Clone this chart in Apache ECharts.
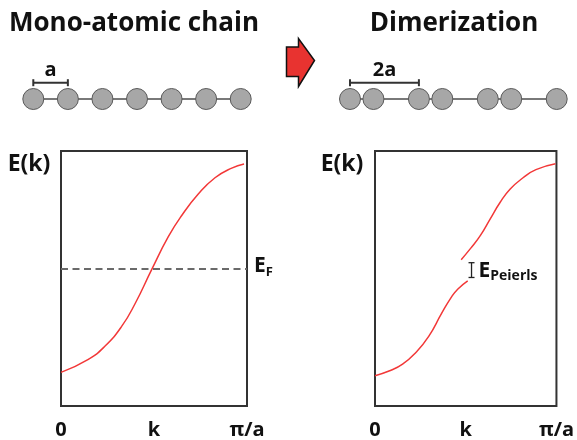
<!DOCTYPE html>
<html>
<head>
<meta charset="utf-8">
<script src="https://cdn.jsdelivr.net/npm/echarts@6/dist/echarts.min.js"></script>
<style>
  html, body { margin: 0; padding: 0; background: #fff; }
  #chart { width: 577px; height: 440px; }
</style>
</head>
<body>
<div id="chart"></div>
<script>
// Atom positions along each chain, in units of the lattice constant a
const atomsMono = [0, 1, 2, 3, 4, 5, 6];
const atomsDimer = [0, 0.68, 2, 2.68, 4, 4.68, 6];
// Unit-cell brackets: [start, end] and their labels
const cellMono = [0, 1];
const cellDimer = [0, 2];
const cellLabels = ['a', '2a'];

// Band E(k) of the mono-atomic chain (k in units of pi/a, E normalised)
const kMono = [0, 0.147, 0.237, 0.326, 0.398, 0.488, 0.577, 0.649, 0.738, 0.828, 0.918, 0.984];
const eMono = [0.132, 0.183, 0.235, 0.312, 0.401, 0.536, 0.664, 0.747, 0.831, 0.895, 0.933, 0.949];
const fermiLevel = 0.536;

// Dimerised chain: lower and upper bands separated by the Peierls gap
const kLower = [0, 0.081, 0.152, 0.224, 0.296, 0.367, 0.421, 0.457, 0.511];
const eLower = [0.119, 0.138, 0.164, 0.209, 0.273, 0.363, 0.427, 0.459, 0.491];
const kUpper = [0.475, 0.528, 0.582, 0.636, 0.690, 0.744, 0.816, 0.887, 0.995];
const eUpper = [0.574, 0.619, 0.670, 0.735, 0.799, 0.850, 0.895, 0.927, 0.950];
const peierlsGap = [0.532, 0.504, 0.562]; // k, E bottom, E top

// Tick labels on the k axis
const kTicks = ['0', 'k', 'π/a'];

const FONT = '"Open Sans", "Noto Sans", sans-serif';
const RED = '#f23838';
const DARK = '#333333';

const zip = (xs, ys) => xs.map((x, i) => [x, ys[i]]);

function chainSeries(atoms, grid) {
  const pts = atoms.map(x => [x, 0]);
  return [
    {
      type: 'line', xAxisIndex: grid, yAxisIndex: grid, data: pts,
      symbol: 'none', lineStyle: { color: '#4d4d4d', width: 1.5 }, silent: true, z: 2
    },
    {
      type: 'scatter', xAxisIndex: grid, yAxisIndex: grid, data: pts,
      symbol: 'circle', symbolSize: 21,
      itemStyle: { color: '#a7a7a7', borderColor: '#5a5a5a', borderWidth: 1, opacity: 1 },
      silent: true, z: 3
    }
  ];
}

function bracketSeries(cell, label, grid) {
  return {
    type: 'custom', xAxisIndex: grid, yAxisIndex: grid, silent: true, z: 4,
    data: [[cell[0], cell[1], 1.63]],
    renderItem: function (params, api) {
      const a = api.coord([api.value(0), api.value(2)]);
      const b = api.coord([api.value(1), api.value(2)]);
      const ls = { stroke: DARK, lineWidth: 2 };
      return {
        type: 'group',
        children: [
          { type: 'line', shape: { x1: a[0], y1: a[1], x2: b[0], y2: b[1] }, style: ls },
          { type: 'line', shape: { x1: a[0], y1: a[1] - 3.5, x2: a[0], y2: a[1] + 3.5 }, style: ls },
          { type: 'line', shape: { x1: b[0], y1: b[1] - 3.5, x2: b[0], y2: b[1] + 3.5 }, style: ls },
          {
            type: 'text',
            style: {
              x: (a[0] + b[0]) / 2, y: a[1] - 12,
              text: label, align: 'center', verticalAlign: 'middle',
              font: 'bold 20px ' + FONT, fill: '#111'
            }
          }
        ]
      };
    }
  };
}

function plotX(grid) {
  return {
    type: 'value', gridIndex: grid, min: 0, max: 1, interval: 0.5,
    axisLine: { show: false }, axisTick: { show: false }, splitLine: { show: false },
    axisLabel: {
      margin: 14, fontFamily: FONT, fontWeight: 'bold', fontSize: 20, color: '#111',
      formatter: v => kTicks[Math.round(v * 2)]
    }
  };
}
function plotY(grid) {
  return { type: 'value', gridIndex: grid, min: 0, max: 1, show: false };
}

function bandLine(ks, es, grid, extra) {
  return Object.assign({
    type: 'line', xAxisIndex: grid, yAxisIndex: grid, data: zip(ks, es),
    smooth: 0.5, symbol: 'none',
    lineStyle: { color: RED, width: 1.5 }, z: 3
  }, extra || {});
}

const option = {
  animation: false,
  backgroundColor: '#ffffff',
  grid: [
    { left: 33.3, top: 59, width: 207.4, height: 50 },
    { left: 350, top: 59, width: 206.7, height: 50 },
    { left: 61, top: 151, width: 186, height: 260, show: true, borderColor: DARK, borderWidth: 2, backgroundColor: 'transparent' },
    { left: 375, top: 151, width: 186, height: 260, show: true, borderColor: DARK, borderWidth: 2, backgroundColor: 'transparent' }
  ],
  xAxis: [
    { type: 'value', gridIndex: 0, min: 0, max: 6, show: false },
    { type: 'value', gridIndex: 1, min: 0, max: 6, show: false },
    plotX(2),
    plotX(3)
  ],
  yAxis: [
    { type: 'value', gridIndex: 0, min: -1, max: 4, show: false },
    { type: 'value', gridIndex: 1, min: -1, max: 4, show: false },
    plotY(2),
    plotY(3)
  ],
  graphic: [
    { type: 'text', x: 134, y: 24, style: { text: 'Mono-atomic chain', font: 'bold 26px ' + FONT, fill: '#111', align: 'center', verticalAlign: 'middle' } },
    { type: 'text', x: 454, y: 24, style: { text: 'Dimerization', font: 'bold 26px ' + FONT, fill: '#111', align: 'center', verticalAlign: 'middle' } },
    { type: 'text', x: 29, y: 164, style: { text: 'E(k)', font: 'bold 23px ' + FONT, fill: '#111', align: 'center', verticalAlign: 'middle' } },
    { type: 'text', x: 342, y: 164, style: { text: 'E(k)', font: 'bold 23px ' + FONT, fill: '#111', align: 'center', verticalAlign: 'middle' } },
    {
      type: 'polygon',
      shape: { points: [[286.5, 47], [298.5, 47], [298.5, 38.5], [314.5, 60.5], [298.5, 86.5], [298.5, 76.5], [286.5, 76.5]] },
      style: { fill: '#e83330', stroke: '#111', lineWidth: 1.5, lineJoin: 'miter' }
    }
  ],
  series: [
    ...chainSeries(atomsMono, 0),
    ...chainSeries(atomsDimer, 1),
    bracketSeries(cellMono, cellLabels[0], 0),
    bracketSeries(cellDimer, cellLabels[1], 1),
    bandLine(kMono, eMono, 2, {
      markLine: {
        silent: true, symbol: 'none',
        lineStyle: { color: '#6a6a6a', width: 2.2, type: [7, 4.5] },
        label: {
          show: true, position: 'end', distance: 7,
          formatter: '{e|E}{s|F}',
          rich: {
            e: { fontFamily: FONT, fontWeight: 'bold', fontSize: 21, color: '#111', padding: [0, 0, 5, 0] },
            s: { fontFamily: FONT, fontWeight: 'bold', fontSize: 13, color: '#111', padding: [8, 0, 0, 0] }
          }
        },
        data: [{ yAxis: fermiLevel }]
      }
    }),
    bandLine(kLower, eLower, 3),
    bandLine(kUpper, eUpper, 3),
    {
      type: 'custom', xAxisIndex: 3, yAxisIndex: 3, silent: true, z: 4,
      data: [peierlsGap],
      renderItem: function (params, api) {
        const lo = api.coord([api.value(0), api.value(1)]);
        const hi = api.coord([api.value(0), api.value(2)]);
        const ls = { stroke: '#222', lineWidth: 1.3 };
        return {
          type: 'group',
          children: [
            { type: 'line', shape: { x1: lo[0], y1: lo[1], x2: hi[0], y2: hi[1] }, style: ls },
            { type: 'line', shape: { x1: lo[0] - 3, y1: lo[1], x2: lo[0] + 3, y2: lo[1] }, style: ls },
            { type: 'line', shape: { x1: hi[0] - 3, y1: hi[1], x2: hi[0] + 3, y2: hi[1] }, style: ls },
            {
              type: 'text',
              style: {
                x: lo[0] + 7, y: (lo[1] + hi[1]) / 2 + 1,
                text: '{e|E}{s|Peierls}', align: 'left', verticalAlign: 'middle',
                rich: {
                  e: { fontFamily: FONT, fontWeight: 'bold', fontSize: 21, fill: '#111' },
                  s: { fontFamily: FONT, fontWeight: 'bold', fontSize: 14, fill: '#111', padding: [9, 0, 0, 0] }
                }
              }
            }
          ]
        };
      }
    }
  ]
};

const chart = echarts.init(document.getElementById('chart'), null, { renderer: 'canvas' });
chart.setOption(option);
</script>
</body>
</html>
